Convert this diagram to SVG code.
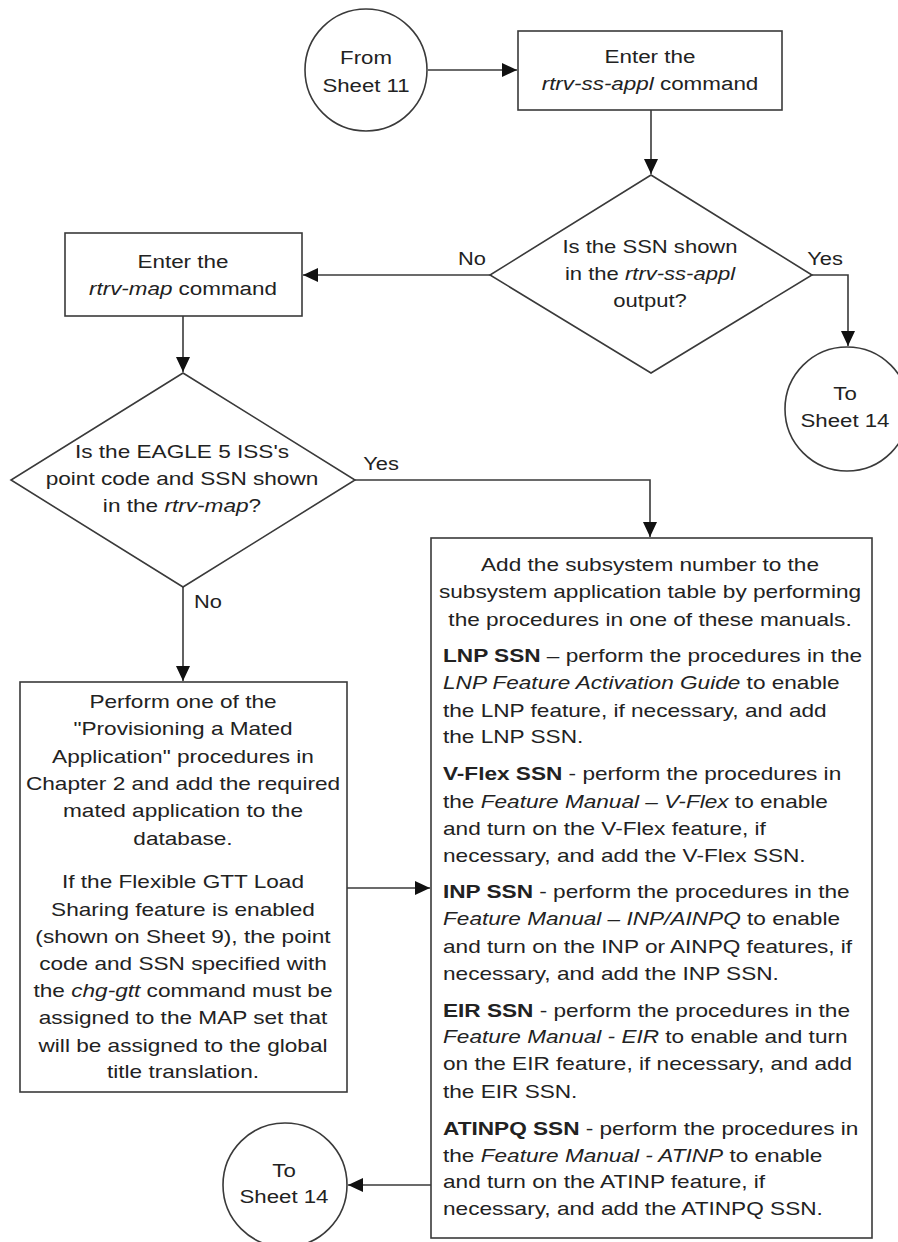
<svg xmlns="http://www.w3.org/2000/svg" width="898" height="1242" viewBox="0 0 898 1242">
<defs>
<style>
.shape{fill:#fff;stroke:#3a3a3a;stroke-width:1.6}
.conn{fill:none;stroke:#3a3a3a;stroke-width:1.6}
text{font-family:"Liberation Sans",Arial,sans-serif;font-size:19px;fill:#222}
.c{text-anchor:middle}
.i{font-style:italic}
.b{font-weight:bold}
</style>
<marker id="arr" markerUnits="userSpaceOnUse" markerWidth="16" markerHeight="14" refX="15" refY="7" orient="auto">
<path d="M0,0 L15,7 L0,14 z" fill="#111"/>
</marker>
</defs>
<rect width="898" height="1242" fill="#fff"/>

<g id="connectors">
<path class="conn" d="M428,70 H517" marker-end="url(#arr)"/>
<path class="conn" d="M651,110 V174" marker-end="url(#arr)"/>
<path class="conn" d="M490,275 H303" marker-end="url(#arr)"/>
<path class="conn" d="M812,275 H848 V346" marker-end="url(#arr)"/>
<path class="conn" d="M183,316 V372" marker-end="url(#arr)"/>
<path class="conn" d="M355,480 H650 V537" marker-end="url(#arr)"/>
<path class="conn" d="M183,587 V681" marker-end="url(#arr)"/>
<path class="conn" d="M347,888 H430" marker-end="url(#arr)"/>
<path class="conn" d="M431,1185 H348" marker-end="url(#arr)"/>
<g transform="translate(472,0) scale(1.15,1)"><text class="c" y="265">No</text></g>
<g transform="translate(825,0) scale(1.15,1)"><text class="c" y="265">Yes</text></g>
<g transform="translate(381,0) scale(1.15,1)"><text class="c" y="470">Yes</text></g>
<g transform="translate(208,0) scale(1.15,1)"><text class="c" y="608">No</text></g>
</g>

<g id="from-sheet-11">
<circle class="shape" cx="366" cy="70" r="61"/>
<g transform="translate(366,0) scale(1.17,1)">
<text class="c" y="64">From</text>
<text class="c" y="92">Sheet 11</text>
</g>
</g>

<g id="enter-rtrv-ss-appl">
<rect class="shape" x="518" y="31" width="264" height="79"/>
<g transform="translate(650,0) scale(1.18,1)">
<text class="c" y="63">Enter the</text>
<text class="c" y="90"><tspan class="i">rtrv-ss-appl</tspan> command</text>
</g>
</g>

<g id="ssn-shown-decision">
<polygon class="shape" points="651,175 812,275 651,373 490,275"/>
<g transform="translate(650,0) scale(1.16,1)">
<text class="c" y="253">Is the SSN shown</text>
<text class="c" y="280">in the <tspan class="i">rtrv-ss-appl</tspan></text>
<text class="c" y="307">output?</text>
</g>
</g>

<g id="to-sheet-14-top">
<circle class="shape" cx="847" cy="409" r="62"/>
<g transform="translate(845,0) scale(1.17,1)">
<text class="c" y="400">To</text>
<text class="c" y="427">Sheet 14</text>
</g>
</g>

<g id="enter-rtrv-map">
<rect class="shape" x="65" y="233" width="237" height="83"/>
<g transform="translate(183,0) scale(1.18,1)">
<text class="c" y="268">Enter the</text>
<text class="c" y="295"><tspan class="i">rtrv-map</tspan> command</text>
</g>
</g>

<g id="pc-ssn-decision">
<polygon class="shape" points="183,373 355,480 183,587 11,480"/>
<g transform="translate(182,0) scale(1.19,1)">
<text class="c" y="458">Is the EAGLE 5 ISS's</text>
<text class="c" y="485">point code and SSN shown</text>
<text class="c" y="512">in the <tspan class="i">rtrv-map</tspan>?</text>
</g>
</g>

<g id="mated-app-box">
<rect class="shape" x="20" y="682" width="327" height="410"/>
<g transform="translate(183,0) scale(1.19,1)">
<text class="c" y="708">Perform one of the</text>
<text class="c" y="735">"Provisioning a Mated</text>
<text class="c" y="763">Application" procedures in</text>
<text class="c" y="790">Chapter 2 and add the required</text>
<text class="c" y="817">mated application to the</text>
<text class="c" y="845">database.</text>
<text class="c" y="888">If the Flexible GTT Load</text>
<text class="c" y="916">Sharing feature is enabled</text>
<text class="c" y="943">(shown on Sheet 9), the point</text>
<text class="c" y="970">code and SSN specified with</text>
<text class="c" y="997">the <tspan class="i">chg-gtt</tspan> command must be</text>
<text class="c" y="1024">assigned to the MAP set that</text>
<text class="c" y="1052">will be assigned to the global</text>
<text class="c" y="1078">title translation.</text>
</g>
</g>

<g id="add-ssn-box">
<rect class="shape" x="431" y="538" width="441" height="700"/>
<g transform="translate(650,0) scale(1.19,1)">
<text class="c" y="571">Add the subsystem number to the</text>
<text class="c" y="598">subsystem application table by performing</text>
<text class="c" y="626">the procedures in one of these manuals.</text>
</g>
<g transform="translate(443,0) scale(1.19,1)">
<text y="662"><tspan class="b">LNP SSN</tspan> – perform the procedures in the</text>
<text y="689"><tspan class="i">LNP Feature Activation Guide</tspan> to enable</text>
<text y="717">the LNP feature, if necessary, and add</text>
<text y="743">the LNP SSN.</text>
<text y="780"><tspan class="b">V-Flex SSN</tspan> - perform the procedures in</text>
<text y="808">the <tspan class="i">Feature Manual – V-Flex</tspan> to enable</text>
<text y="835">and turn on the V-Flex feature, if</text>
<text y="862">necessary, and add the V-Flex SSN.</text>
<text y="898"><tspan class="b">INP SSN</tspan> - perform the procedures in the</text>
<text y="925"><tspan class="i">Feature Manual – INP/AINPQ</tspan> to enable</text>
<text y="953">and turn on the INP or AINPQ features, if</text>
<text y="980">necessary, and add the INP SSN.</text>
<text y="1017"><tspan class="b">EIR SSN</tspan> - perform the procedures in the</text>
<text y="1043"><tspan class="i">Feature Manual - EIR</tspan> to enable and turn</text>
<text y="1070">on the EIR feature, if necessary, and add</text>
<text y="1098">the EIR SSN.</text>
<text y="1135"><tspan class="b">ATINPQ SSN</tspan> - perform the procedures in</text>
<text y="1162">the <tspan class="i">Feature Manual - ATINP</tspan> to enable</text>
<text y="1188">and turn on the ATINP feature, if</text>
<text y="1215">necessary, and add the ATINPQ SSN.</text>
</g>
</g>

<g id="to-sheet-14-bottom">
<circle class="shape" cx="285" cy="1185" r="62"/>
<g transform="translate(284,0) scale(1.17,1)">
<text class="c" y="1177">To</text>
<text class="c" y="1203">Sheet 14</text>
</g>
</g>
</svg>
